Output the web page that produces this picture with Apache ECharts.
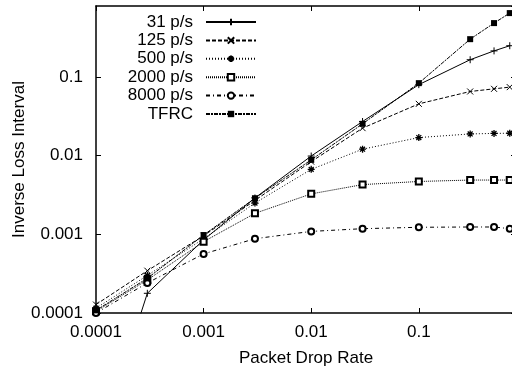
<!DOCTYPE html>
<html><head><meta charset="utf-8">
<script src="https://cdn.jsdelivr.net/npm/echarts@6/dist/echarts.min.js"></script>
<style>html,body{margin:0;padding:0;background:#fff}#c{width:512px;height:366px}</style>
</head><body><div id="c"></div>
<script>
const dropRates = [0.0001, 0.0003, 0.001, 0.003, 0.01, 0.03, 0.1, 0.3, 0.5, 0.7];
const s31   = [0.0000017, 0.000178, 0.00085, 0.0029, 0.0099, 0.0272, 0.080, 0.166, 0.215, 0.25];
const s125  = [0.000128, 0.000345, 0.00096, 0.0027, 0.0084, 0.0224, 0.0456, 0.0655, 0.0708, 0.0744];
const s500  = [0.000115, 0.00030, 0.00088, 0.0025, 0.0067, 0.0121, 0.0170, 0.0189, 0.0192, 0.0193];
const s2000 = [0.000105, 0.000263, 0.000807, 0.00185, 0.00327, 0.00429, 0.0047, 0.0049, 0.0049, 0.0049];
const s8000 = [0.000100, 0.000241, 0.000564, 0.00088, 0.00109, 0.00118, 0.00123, 0.00124, 0.00124, 0.00118];
const sTFRC = [0.000108, 0.000276, 0.00098, 0.00288, 0.00885, 0.0254, 0.0836, 0.303, 0.485, 0.65];
const seriesNames = ['31 p/s', '125 p/s', '500 p/s', '2000 p/s', '8000 p/s', 'TFRC'];
const xTickLabels = ['0.0001', '0.001', '0.01', '0.1'];
const yTickLabels = ['0.0001', '0.001', '0.01', '0.1'];

const FONT = 'Liberation Sans';
const pair = ys => dropRates.map((x, i) => [x, ys[i]]);
const fmt = v => { const s = String(+(+v).toPrecision(6)); return (xTickLabels.indexOf(s) >= 0 || yTickLabels.indexOf(s) >= 0) ? s : ''; };

const styles = [
  {data: s31, symbol: 'path://M0,5L10,5M5,0L5,10', size: 7, dash: 'solid', border: 1},
  {data: s125, symbol: 'path://M0,0L10,10M10,0L0,10', size: 6, dash: [4, 2], border: 1},
  {data: s500, symbol: 'path://M0,5L10,5M5,0L5,10M1.5,1.5L8.5,8.5M8.5,1.5L1.5,8.5', size: 7, dash: [1, 2], border: 1.3},
  {data: s2000, symbol: 'emptyRect', size: 6, dash: [1, 1], border: 1},
  {data: s8000, symbol: 'emptyCircle', size: 6, dash: [4, 3, 1, 3], border: 1},
  {data: sTFRC, symbol: 'rect', size: 6, dash: [4, 1, 2, 1], border: 0}
];

const chart = echarts.init(document.getElementById('c'), null, {renderer: 'canvas'});
chart.setOption({
  animation: false,
  backgroundColor: '#fff',
  grid: {left: 96, top: 6, right: -4, bottom: 53, containLabel: false, outerBoundsMode: 'none'},
  legend: {
    orient: 'vertical', right: 250, top: 8.5, align: 'right',
    itemWidth: 50, itemHeight: 8, itemGap: 1.4,
    data: seriesNames,
    textStyle: {fontFamily: FONT, fontSize: 17, color: '#000', padding: [0, 8, 0, 0]}
  },
  xAxis: [{
    type: 'log', logBase: 10, min: 0.0001, max: 0.8,
    name: 'Packet Drop Rate', nameLocation: 'middle', nameGap: 37, nameMoveOverlap: false,
    nameTextStyle: {fontFamily: FONT, fontSize: 17, color: '#000'},
    axisLine: {lineStyle: {color: '#000', width: 1.5}},
    axisTick: {inside: true, length: 5, lineStyle: {color: '#000'}},
    minorTick: {show: false},
    axisLabel: {fontFamily: FONT, fontSize: 17, color: '#000', margin: 11, showMaxLabel: false, formatter: fmt},
    splitLine: {show: false}
  }, {
    type: 'log', logBase: 10, min: 0.0001, max: 0.8, position: 'top',
    axisLine: {lineStyle: {color: '#000', width: 1.5}},
    axisTick: {inside: true, length: 5, lineStyle: {color: '#000'}},
    axisLabel: {show: false},
    splitLine: {show: false}
  }],
  yAxis: [{
    type: 'log', logBase: 10, min: 0.0001, max: 0.8,
    name: 'Inverse Loss Interval', nameLocation: 'middle', nameGap: 68, nameMoveOverlap: false,
    nameTextStyle: {fontFamily: FONT, fontSize: 17, color: '#000'},
    axisLine: {lineStyle: {color: '#000', width: 1.5}},
    axisTick: {inside: true, length: 5, lineStyle: {color: '#000'}},
    axisLabel: {fontFamily: FONT, fontSize: 17, color: '#000', margin: 13, showMaxLabel: false, formatter: fmt},
    splitLine: {show: false}
  }, {
    type: 'log', logBase: 10, min: 0.0001, max: 0.8, position: 'right',
    axisLine: {lineStyle: {color: '#000', width: 1.5}},
    axisTick: {inside: true, length: 5, lineStyle: {color: '#000'}},
    axisLabel: {show: false},
    splitLine: {show: false}
  }],
  series: styles.map((st, i) => ({
    name: seriesNames[i], type: 'line', data: pair(st.data),
    xAxisIndex: 0, yAxisIndex: 0, clip: true,
    symbol: st.symbol, symbolSize: st.size, showAllSymbol: true,
    lineStyle: {color: '#000', width: 1, type: st.dash},
    itemStyle: {color: '#000', borderColor: '#000', borderWidth: st.border},
    emphasis: {disabled: true}
  }))
});
</script></body></html>
